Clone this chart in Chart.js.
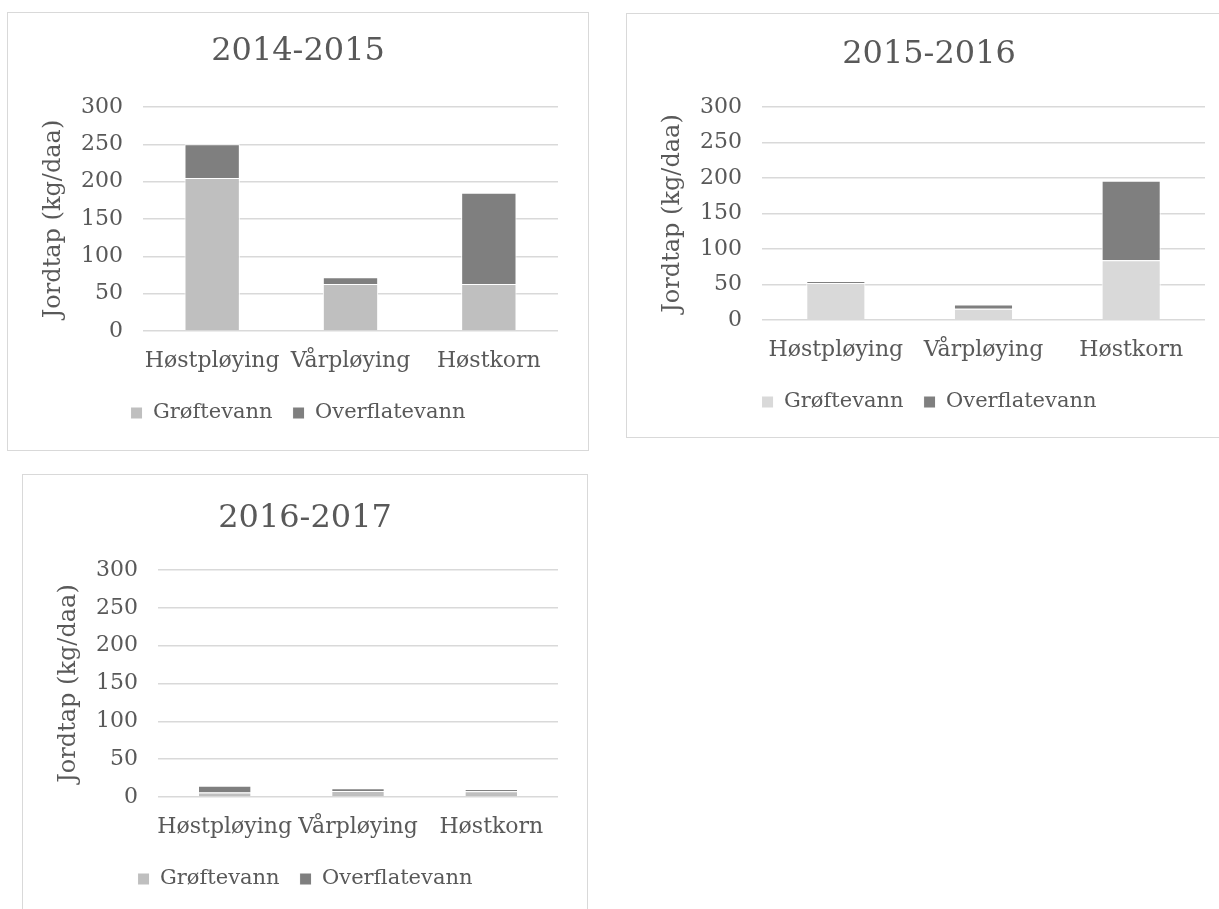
<!DOCTYPE html>
<html lang="no">
<head>
<meta charset="UTF-8">
<title>Jordtap</title>
<script src="https://cdn.jsdelivr.net/npm/chart.js"></script>
<style>
  html, body { margin: 0; padding: 0; background: #fff; overflow: hidden; }
  body { width: 1219px; height: 909px; position: relative; }
  .boks { position: absolute; border: 1px solid #d9d9d9; background: #fff; }
  .boks canvas { display: block; }
</style>
</head>
<body>
<div class="boks" style="left:7px; top:12px; width:580px; height:437px;">
  <canvas id="graf1" width="580" height="437"></canvas>
</div>
<div class="boks" style="left:626px; top:13px; width:604px; height:423px;">
  <canvas id="graf2" width="604" height="423"></canvas>
</div>
<div class="boks" style="left:22px; top:474px; width:564px; height:448px;">
  <canvas id="graf3" width="564" height="448"></canvas>
</div>
<script>
const kategorier = ['Høstpløying', 'Vårpløying', 'Høstkorn'];
const serier = ['Grøftevann', 'Overflatevann'];
const yTicks = [0, 50, 100, 150, 200, 250, 300];

// jordtap i kg/daa per sesong
const groeft1415 = [205, 63, 63];
const overflate1415 = [45, 9, 122];
const groeft1516 = [52, 16, 84];
const overflate1516 = [3, 6, 112];
const groeft1617 = [6, 8, 7.5];
const overflate1617 = [9, 3.5, 3];

const tekstFarge = '#595959';
const font = 'DejaVu Serif';

function lagGraf(id, tittel, groeft, overflate, lysFarge, oppsett) {
  const ctx = document.getElementById(id);
  const legendFont = 21, legendPad = 20;
  // legend: font + padding + 10 (fast tillegg i Chart.js)
  const legendH = legendFont + legendPad + 10;
  const xAksH = 82 - legendPad - legendFont / 2;
  return new Chart(ctx, {
    type: 'bar',
    data: {
      labels: kategorier,
      datasets: [
        { label: serier[0], data: groeft, backgroundColor: lysFarge,
          borderColor: '#ffffff', borderWidth: 1 },
        { label: serier[1], data: overflate, backgroundColor: '#7f7f7f',
          borderColor: '#ffffff', borderWidth: 1 }
      ]
    },
    options: {
      responsive: false,
      animation: false,
      barPercentage: 0.4,
      categoryPercentage: 1,
      layout: {
        padding: {
          left: 0, right: 0, top: 0,
          bottom: oppsett.hoyde - oppsett.plotBunn - xAksH - legendH
        }
      },
      plugins: {
        tooltip: { enabled: false },
        title: {
          display: true,
          text: tittel,
          color: tekstFarge,
          font: { family: font, size: 32, weight: 'normal' },
          padding: {
            top: oppsett.tittelY - 19.2,
            bottom: oppsett.plotTopp - oppsett.tittelY - 19.2
          }
        },
        legend: {
          position: 'bottom',
          labels: {
            color: tekstFarge,
            font: { family: font, size: legendFont },
            boxWidth: 12,
            boxHeight: 12,
            padding: legendPad
          }
        }
      },
      scales: {
        x: {
          stacked: true,
          grid: { display: false },
          border: { display: false },
          ticks: {
            color: tekstFarge, font: { family: font, size: 22 }, padding: 9,
            maxRotation: 0, minRotation: 0, autoSkip: false
          },
          afterFit: s => { s.height = xAksH; }
        },
        y: {
          stacked: true,
          min: yTicks[0],
          max: yTicks[yTicks.length - 1],
          afterBuildTicks: s => { s.ticks = yTicks.map(v => ({ value: v })); },
          grid: { color: '#d9d9d9', lineWidth: 1.5, drawTicks: false },
          border: { display: false },
          ticks: { color: tekstFarge, font: { family: font, size: 22 }, padding: 20 },
          title: {
            display: true,
            text: 'Jordtap (kg/daa)',
            color: tekstFarge,
            font: { family: font, size: 24 },
            padding: { top: 31, bottom: 0 }
          },
          afterFit: s => { s.width = 135; }
        },
        // tom akse til høyre, holder av plass uten å flytte tittel og forklaring
        hoyre: {
          type: 'linear',
          position: 'right',
          display: true,
          grid: { display: false, drawTicks: false },
          border: { display: false },
          ticks: { display: false },
          afterFit: s => { s.width = oppsett.hoyre; }
        }
      }
    }
  });
}

lagGraf('graf1', '2014-2015', groeft1415, overflate1415, '#bfbfbf',
  { hoyde: 437, plotTopp: 94, plotBunn: 318, tittelY: 39, hoyre: 30 });
lagGraf('graf2', '2015-2016', groeft1516, overflate1516, '#d9d9d9',
  { hoyde: 423, plotTopp: 93, plotBunn: 306, tittelY: 41, hoyre: 26 });
lagGraf('graf3', '2016-2017', groeft1617, overflate1617, '#bfbfbf',
  { hoyde: 448, plotTopp: 95, plotBunn: 322, tittelY: 44, hoyre: 29 });
</script>
</body>
</html>
